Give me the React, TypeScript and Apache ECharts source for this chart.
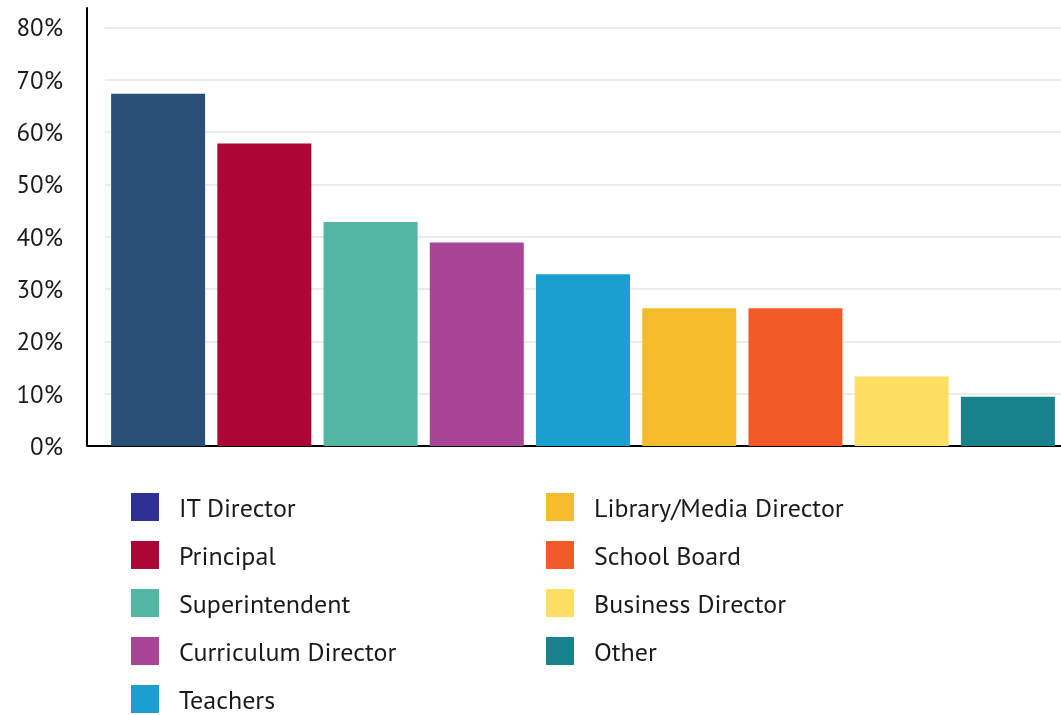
import React, { useEffect, useRef } from "react";
import * as echarts from "echarts";

const categories = [
  "IT Director",
  "Principal",
  "Superintendent",
  "Curriculum Director",
  "Teachers",
  "Library/Media Director",
  "School Board",
  "Business Director",
  "Other",
];
const values = [67.3, 57.8, 42.8, 38.9, 32.8, 26.3, 26.3, 13.3, 9.4];
const barColors = [
  "#2a4f76",
  "#ab0634",
  "#52b6a2",
  "#a94496",
  "#1b9fd1",
  "#f4bb2b",
  "#f15a27",
  "#fddf64",
  "#18828a",
];
const legendColors = [
  "#2e3192",
  "#ab0634",
  "#52b6a2",
  "#a94496",
  "#1b9fd1",
  "#f4bb2b",
  "#f15a27",
  "#fddf64",
  "#18828a",
];
const yTicks = [0, 10, 20, 30, 40, 50, 60, 70, 80];

const FONT = "'PT Sans', 'Noto Sans', sans-serif";

export default function App() {
  const ref = useRef<HTMLDivElement>(null);
  useEffect(() => {
    if (!ref.current) return;
    const chart = echarts.init(ref.current, null, { renderer: "svg" });
    const series = categories.map((name, i) => ({
      name,
      type: "bar",
      barWidth: 94,
      barGap: "-100%",
      itemStyle: { color: barColors[i] },
      data: categories.map((_, j) => (j === i ? values[i] : "-")),
    }));
    const legendItem = (name: string, i: number) => ({
      name,
      itemStyle: { color: legendColors[i] },
    });
    const legendCommon = {
      orient: "vertical",
      icon: "rect",
      itemWidth: 28,
      itemHeight: 28,
      itemGap: 20,
      top: 493,
      height: 400,
      padding: 0,
      textStyle: {
        fontFamily: FONT,
        fontSize: 26,
        color: "#1a1a1a",
        lineHeight: 24,
        padding: [0, 0, 0, 15],
      },
    };
    chart.setOption({
      animation: false,
      grid: { left: 105, right: 0, top: 8, bottom: 269, containLabel: false },
      legend: [
        {
          ...legendCommon,
          left: 131,
          data: categories.slice(0, 5).map((n, i) => legendItem(n, i)),
        },
        {
          ...legendCommon,
          left: 546,
          data: categories.slice(5).map((n, i) => legendItem(n, i + 5)),
        },
      ],
      xAxis: {
        type: "category",
        data: categories,
        axisLine: { show: true, lineStyle: { color: "#000", width: 2 } },
        axisTick: { show: false },
        axisLabel: { show: false },
      },
      yAxis: {
        type: "value",
        min: yTicks[0],
        max: 83.7,
        interval: 10,
        offset: 18,
        axisLine: { show: true, lineStyle: { color: "#000", width: 2 } },
        axisTick: { show: false },
        axisLabel: {
          showMaxLabel: false,
          margin: 24,
          fontFamily: FONT,
          fontSize: 25,
          color: "#1a1a1a",
          formatter: (v: number) => (yTicks.includes(v) ? v + "%" : ""),
        },
        splitLine: {
          show: true,
          showMaxLine: false,
          lineStyle: { color: "#ebebeb", width: 2 },
        },
      },
      graphic: [
        {
          type: "line",
          shape: { x1: 87, y1: 446, x2: 106, y2: 446 },
          style: { stroke: "#000", lineWidth: 2 },
          z: 10,
        },
      ],
      series,
    });
    return () => chart.dispose();
  }, []);
  return (
    <div
      ref={ref}
      style={{ position: "fixed", left: 0, top: 0, width: 1061, height: 715 }}
    />
  );
}
